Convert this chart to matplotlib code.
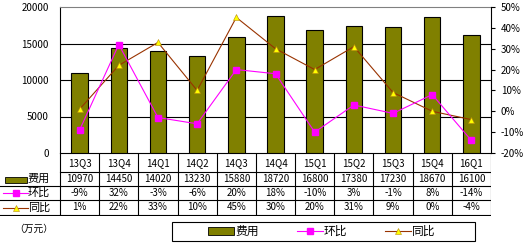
import matplotlib
matplotlib.use("Agg")
import matplotlib.pyplot as plt
from matplotlib.lines import Line2D
from matplotlib.patches import Rectangle

plt.rcParams['font.family'] = ['Noto Sans CJK SC', 'DejaVu Sans']

# data
quarters = ["13Q3", "13Q4", "14Q1", "14Q2", "14Q3", "14Q4", "15Q1", "15Q2", "15Q3", "15Q4", "16Q1"]
cost = [10970, 14450, 14020, 13230, 15880, 18720, 16800, 17380, 17230, 18670, 16100]
qoq = [-9, 32, -3, -6, 20, 18, -10, 3, -1, 8, -14]
yoy = [1, 22, 33, 10, 45, 30, 20, 31, 9, 0, -4]

OLIVE = "#808000"
MAGENTA = "#FF00FF"
BROWN = "#993300"
YELLOW = "#FFFF00"

W, H = 527, 246
fig = plt.figure(figsize=(W / 100, H / 100), dpi=100)

# main plot area (pixel coords -> figure fraction)
px_l, px_r, px_t, px_b = 60, 491, 7, 153
ax = fig.add_axes([px_l / W, 1 - px_b / H, (px_r - px_l) / W, (px_b - px_t) / H])
x = list(range(len(quarters)))
ax.bar(x, cost, width=0.42, color=OLIVE, edgecolor="black", linewidth=0.8, zorder=3)
ax.set_xlim(-0.5, len(quarters) - 0.5)
ax.set_ylim(0, 20000)
ax.set_yticks([0, 5000, 10000, 15000, 20000])
ax.set_xticks([])
ax.tick_params(axis="y", length=0, labelsize=7, pad=8)
for v in [5000, 10000, 15000]:
    ax.axhline(v, color="black", lw=0.8, zorder=1)
ax.spines["top"].set_color("#808080")
ax.spines["right"].set_visible(False)
for s in ["left", "bottom"]:
    ax.spines[s].set_color("black")
    ax.spines[s].set_linewidth(0.8)

ax2 = ax.twinx()
ax2.plot(x, yoy, color=BROWN, lw=0.8, marker="^", markersize=4,
         markerfacecolor=YELLOW, markeredgecolor="#B8860B", markeredgewidth=0.4, zorder=4)
ax2.plot(x, qoq, color=MAGENTA, lw=0.8, marker="s", markersize=5,
         markerfacecolor=MAGENTA, markeredgecolor=MAGENTA, zorder=5)
ax2.set_ylim(-20, 50)
ax2.set_yticks(range(-20, 51, 10))
ax2.set_yticklabels([f"{v}%" for v in range(-20, 51, 10)])
ax2.tick_params(axis="y", length=3, width=0.8, labelsize=7, pad=4, color="black")
ax2.spines["right"].set_color("black")
ax2.spines["right"].set_linewidth(0.8)
ax2.spines["top"].set_visible(False)
ax2.spines["left"].set_visible(False)
ax2.spines["bottom"].set_visible(False)

# data table below the plot
col_w = (px_r - px_l) / len(quarters)
tb_top, tb_bot = 153, 216
tax = fig.add_axes([0, 1 - tb_bot / H, px_r / W, (tb_bot - tb_top) / H])
tax.set_xlim(-0.5 - px_l / col_w, len(quarters) - 0.5)
tax.set_ylim(tb_bot, tb_top)
tax.axis("off")
x0 = -0.5 - px_l / col_w
xe = len(quarters) - 0.5
rows = [153, 172, 186, 200, 215]
tax.plot([-0.5, xe], [rows[1]] * 2, color="black", lw=0.8)
for yv in rows[2:]:
    tax.plot([x0, xe], [yv] * 2, color="black", lw=0.8)
for k in range(len(quarters) + 1):
    tax.plot([k - 0.5] * 2, [rows[0], rows[-1]], color="black", lw=0.8)

for i, q in enumerate(quarters):
    tax.text(i, 163, q, ha="center", va="center", fontsize=7)
    tax.text(i, 179, str(cost[i]), ha="center", va="center", fontsize=7)
    tax.text(i, 193, f"{qoq[i]}%", ha="center", va="center", fontsize=7)
    tax.text(i, 207.5, f"{yoy[i]}%", ha="center", va="center", fontsize=7)

# row legends in first column
def px2x(p):
    return x0 + p / col_w

tax.add_patch(Rectangle((px2x(5), 177), px2x(27) - px2x(5), 6,
                        facecolor=OLIVE, edgecolor="black", lw=0.6))
tax.text(px2x(28), 179, "费用", ha="left", va="center", fontsize=8)
tax.plot([px2x(3), px2x(28)], [193, 193], color=MAGENTA, lw=0.8)
tax.plot([px2x(16)], [193], marker="s", markersize=4, color=MAGENTA)
tax.text(px2x(28), 193, "环比", ha="left", va="center", fontsize=8)
tax.plot([px2x(3), px2x(28)], [208, 208], color=BROWN, lw=0.8)
tax.plot([px2x(16)], [208], marker="^", markersize=4, markerfacecolor=YELLOW,
         markeredgecolor="#B8860B", markeredgewidth=0.4)
tax.text(px2x(28), 207.5, "同比", ha="left", va="center", fontsize=8)

fig.text(14 / W, 1 - 229 / H, "（万元）", ha="left", va="center", fontsize=7)

# bottom legend: box drawn by hand, entries centred inside
fig.patches.append(Rectangle((172 / W, 1 - 241 / H), 303 / W, 19 / H,
                             transform=fig.transFigure, facecolor="white",
                             edgecolor="black", lw=0.8))
handles = [
    Rectangle((0, 0), 1, 1, facecolor=OLIVE, edgecolor="black", lw=0.6),
    Line2D([], [], color=MAGENTA, lw=0.8, marker="s", markersize=4),
    Line2D([], [], color=BROWN, lw=0.8, marker="^", markersize=4,
           markerfacecolor=YELLOW, markeredgecolor="#B8860B", markeredgewidth=0.4),
]
fig.legend(handles, ["费用", "环比", "同比"], ncol=3, loc="center",
           bbox_to_anchor=(322 / W, 1 - 231.5 / H), frameon=False,
           fontsize=8.5, handlelength=2.2, handletextpad=0.1, columnspacing=3.2,
           borderpad=0)

fig.savefig("out.png", dpi=100, facecolor="white")
